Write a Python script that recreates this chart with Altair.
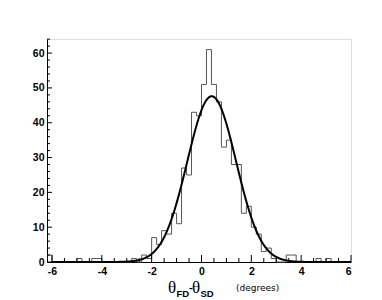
import altair as alt
import pandas as pd

# ---- data ----
x_min, x_max = -6.2, 6.0
bin_width = 0.2
counts = [
    2, 0, 0, 0, 0, 0, 1, 0, 0, 1,
    1, 0, 0, 0, 0, 0, 0, 1, 0, 2,
    1, 7, 5, 9, 8, 14, 11, 27, 25, 43,
    42, 51, 61, 51, 46, 33, 35, 28, 28, 14,
    16, 10, 8, 3, 4, 1, 0, 0, 2, 2,
    0, 0, 0, 0, 1, 0, 1, 0, 0, 0, 0,
]
bin_left = [round(x_min + bin_width * i, 2) for i in range(len(counts))]

# gaussian fit parameters (constant, mean, sigma)
fit_const, fit_mean, fit_sigma = 47.6, 0.41, 0.98

x_major = [-6, -4, -2, 0, 2, 4, 6]
x_minor = [v / 2 for v in range(-12, 13) if v % 4 != 0]
y_major = [0, 10, 20, 30, 40, 50, 60]
y_minor = [v for v in range(0, 65, 2) if v % 10 != 0]

y_max = 64.05
W, H = 304, 223

# step outline of histogram
step_x = bin_left + [x_max]
step_y = counts + [counts[-1]]
hist_df = pd.DataFrame({"x": step_x, "y": step_y})

xscale = alt.Scale(domain=[x_min, x_max], nice=False, zero=False)
yscale = alt.Scale(domain=[0, y_max], nice=False)

label_font = "Liberation Sans"
x_axis = alt.Axis(values=x_major, ticks=False, grid=False, domainColor="black",
                  labelFont=label_font, labelFontWeight="bold", labelFontSize=10.5,
                  labelColor="black", labelPadding=4, title=None,
                  labelExpr="datum.value < 0 ? '-' + (-datum.value) : '' + datum.value")
y_axis = alt.Axis(values=y_major, ticks=False, grid=False, domainColor="black",
                  labelFont=label_font, labelFontWeight="bold", labelFontSize=10.5,
                  labelColor="black", labelPadding=3, title=None)

hist = alt.Chart(hist_df).mark_line(interpolate="step-after", color="#555555",
                                    strokeWidth=1).encode(
    x=alt.X("x:Q", scale=xscale, axis=x_axis),
    y=alt.Y("y:Q", scale=yscale, axis=y_axis),
)

fit_expr = f"{fit_const} * exp(-0.5 * pow((datum.x - ({fit_mean})) / {fit_sigma}, 2))"
fit = alt.Chart(alt.sequence(start=-6.0, stop=6.001, step=0.02, as_="x")).transform_calculate(
    y=fit_expr
).mark_line(color="black", strokeWidth=2).encode(
    x=alt.X("x:Q", scale=xscale, axis=x_axis),
    y=alt.Y("y:Q", scale=yscale, axis=y_axis),
)

def xticks(vals, length):
    return alt.Chart(pd.DataFrame({"x": vals})).mark_rule(color="black", strokeWidth=1).encode(
        x=alt.X("x:Q", scale=xscale, axis=x_axis),
        y=alt.value(H), y2=alt.value(H - length),
    )

def yticks(vals, length):
    return alt.Chart(pd.DataFrame({"y": vals})).mark_rule(color="black", strokeWidth=1).encode(
        y=alt.Y("y:Q", scale=yscale, axis=y_axis),
        x=alt.value(0), x2=alt.value(length),
    )

one = pd.DataFrame({"a": [0]})

def label(txt, px, py, size, font, weight="normal"):
    return alt.Chart(one).mark_text(text=txt, align="left", baseline="alphabetic",
                                    font=font, fontSize=size, fontWeight=weight,
                                    color="black").encode(
        x=alt.value(px), y=alt.value(py))

title_layers = [
    label("θ", 121, 254, 17, "Liberation Serif"),
    label("FD", 129.5, 257.5, 9.5, label_font, "bold"),
    label("-", 142, 252, 11, label_font, "bold"),
    label("θ", 145, 254, 17, "Liberation Serif"),
    label("SD", 153.5, 257.5, 9.5, label_font, "bold"),
    label("(degrees)", 189, 252, 9, "DejaVu Sans"),
]

chart = alt.layer(
    hist, fit,
    xticks(x_major, 7), xticks(x_minor, 4),
    yticks(y_major, 5), yticks(y_minor, 3),
    *title_layers,
).properties(
    width=W, height=H,
    autosize=alt.AutoSizeParams(type="none"),
    padding={"left": 39, "top": 31, "right": 10, "bottom": 36},
).configure_view(stroke="#888888", strokeWidth=1).configure(background="white")

chart.save("out.html", embed_options={"renderer": "svg", "actions": False})
